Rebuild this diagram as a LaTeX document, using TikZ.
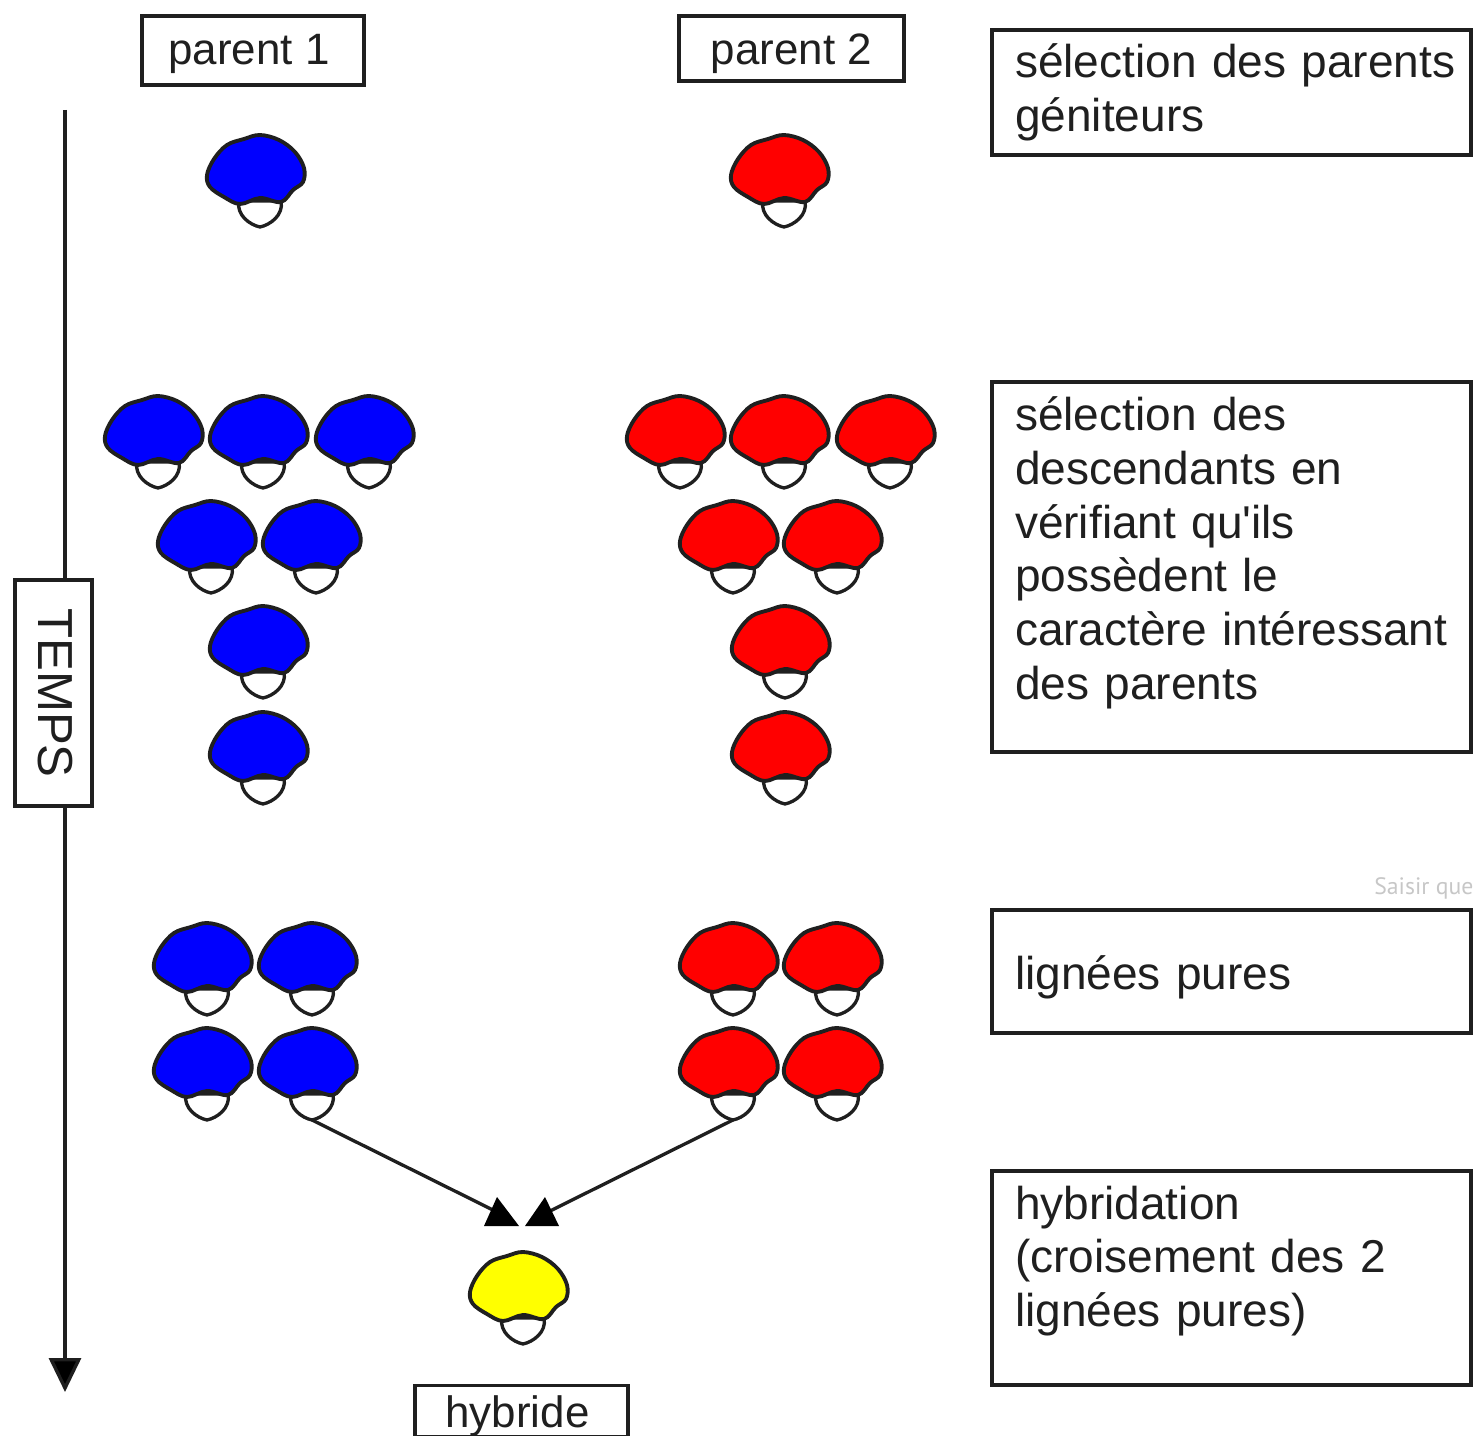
\documentclass[tikz,border=0pt]{standalone}
\usepackage{fontspec}
\setmainfont{Liberation Sans}
\newfontfamily\hintfont{PT Sans}
\usetikzlibrary{arrows.meta}
\definecolor{inkdark}{gray}{0.12}
\definecolor{seedblue}{rgb}{0,0,1}
\definecolor{seedred}{rgb}{1,0,0}
\definecolor{seedyellow}{rgb}{1,1,0}
\newcommand{\lowtext}[2]{\smash{\raisebox{#1}{#2}}}
\tikzset{
	seed/.pic={
		\draw[line width=1.9pt, inkdark, fill=white] (-21, -26) .. controls (-24, -12) and (-10, -2) .. (0, 0) .. controls (10, -2) and (24, -12) .. (21, -26) -- cycle;
		\draw[line width=2.2pt, inkdark, fill=#1] plot [smooth cycle, tension=0.6] coordinates {(0, -92) (19, -87) (35, -75) (44, -59) (43, -45) (33, -37) (21, -25) (0, -29) (-20, -23) (-36, -30) (-50, -40) (-53, -52) (-46, -68) (-33, -82) (-16, -88)};
		\coordinate (-tip) at (0, 0);
	},
	namebox/.style={draw=inkdark, text=inkdark, line width=1.8pt, inner sep=0pt, font=\fontsize{25}{30}\selectfont},
	infobox/.style={draw=inkdark, text=inkdark, line width=1.8pt, minimum width=9.58cm, inner xsep=0.46cm, inner ysep=0pt, text width=8.66cm, align=left, font=\fontsize{26.2}{30.6}\selectfont},
	link/.style={inkdark, line width=1.9pt}
}
\begin{document}
\begin{tikzpicture}[x=0.02cm, y=-0.02cm]
	\useasboundingbox (0, 0) rectangle (1475, 1436);
	% time axis
	\coordinate (timestart) at (65, 110);
	\coordinate (timeend) at (65, 1392);
	\draw[link, -{Triangle[length=0.68cm, width=0.64cm, fill=black]}] (timestart) -- (timeend);
	\node (temps) at (53.5, 693) [namebox, fill=white, minimum width=4.52cm, minimum height=1.54cm, rotate=-90, font=\fontsize{28}{30}\selectfont] {\lowtext{-0.31cm}{TEMPS}};
	% names
	\node (parentone) at (253, 50.5) [namebox, minimum width=4.44cm, minimum height=1.38cm] {\hspace*{-0.16cm}\lowtext{-0.29cm}{parent 1}};
	\node (parenttwo) at (791.5, 48.5) [namebox, minimum width=4.5cm, minimum height=1.3cm] {\lowtext{-0.33cm}{parent 2}};
	\node (hybride) at (521.5, 1411) [namebox, minimum width=4.26cm, minimum height=1.02cm] {\hspace*{-0.16cm}\lowtext{-0.32cm}{hybride}};
	% right column
	\node (selection) at (1231.5, 92.5) [infobox, minimum height=2.5cm] {\mbox{sélection des parents}\\géniteurs};
	\node (descendants) at (1231.5, 567) [infobox, minimum height=7.4cm] {sélection des\\descendants en\\vérifiant qu\textquotesingle ils\\possèdent le\\\mbox{caractère intéressant}\\des parents\\[-0.32cm]\mbox{}};
	\node (lignees) at (1231.5, 971.5) [infobox, minimum height=2.46cm] {\lowtext{-0.35cm}{lignées pures}};
	\node (hybridation) at (1231.5, 1278) [infobox, minimum height=4.28cm] {hybridation\\(croisement des 2\\lignées pures)\\[-0.2cm]\mbox{}};
	\node (hint) at (1374, 888) [anchor=west, inner sep=0pt, text=black!22, font=\hintfont\fontsize{13.5}{15}\selectfont] {Saisir que};
	% blue line
	\pic (bluea) at (260, 227) {seed=seedblue};
	\pic (blueb) at (158, 488) {seed=seedblue};
	\pic (bluec) at (263, 488) {seed=seedblue};
	\pic (blued) at (369, 488) {seed=seedblue};
	\pic (bluee) at (211, 593) {seed=seedblue};
	\pic (bluef) at (316, 593) {seed=seedblue};
	\pic (blueg) at (263, 698) {seed=seedblue};
	\pic (blueh) at (263, 804) {seed=seedblue};
	\pic (bluei) at (207, 1015) {seed=seedblue};
	\pic (bluej) at (312, 1015) {seed=seedblue};
	\pic (bluek) at (207, 1120) {seed=seedblue};
	\pic (bluel) at (312, 1120) {seed=seedblue};
	% red line
	\pic (reda) at (784, 227) {seed=seedred};
	\pic (redb) at (680, 488) {seed=seedred};
	\pic (redc) at (784, 488) {seed=seedred};
	\pic (redd) at (890, 488) {seed=seedred};
	\pic (rede) at (733, 593) {seed=seedred};
	\pic (redf) at (837, 593) {seed=seedred};
	\pic (redg) at (785, 698) {seed=seedred};
	\pic (redh) at (785, 804) {seed=seedred};
	\pic (redi) at (733, 1015) {seed=seedred};
	\pic (redj) at (837, 1015) {seed=seedred};
	\pic (redk) at (733, 1120) {seed=seedred};
	\pic (redl) at (837, 1120) {seed=seedred};
	% hybrid
	\pic (yellowa) at (523, 1344) {seed=seedyellow};
	\coordinate (headblue) at (497, 1212);
	\coordinate (headred) at (548, 1212);
	\draw[link] (bluel-tip) -- (headblue);
	\draw[link] (redk-tip) -- (headred);
	\fill (headblue) +(-13, 14) -- +(22, 14) -- +(0, -15) -- cycle;
	\fill (headred) +(-23, 14) -- +(11, 14) -- +(-3, -15) -- cycle;
\end{tikzpicture}
\end{document}
